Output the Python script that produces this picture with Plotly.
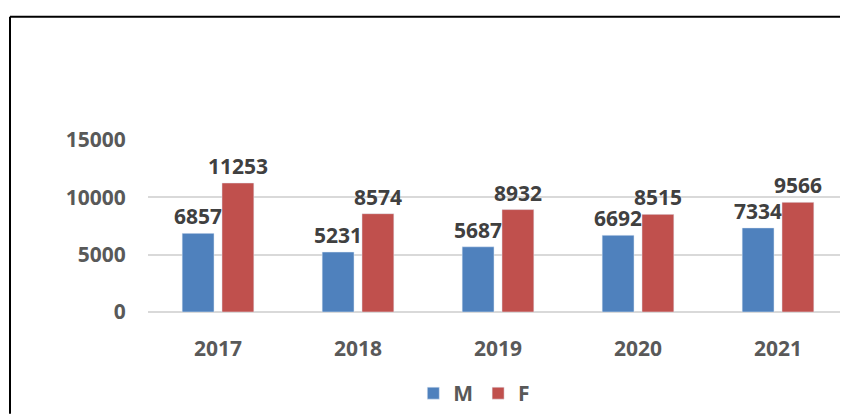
import plotly.graph_objects as go

years = ["2017", "2018", "2019", "2020", "2021"]
male = [6857, 5231, 5687, 6692, 7334]
female = [11253, 8574, 8932, 8515, 9566]
y_ticks = [0, 5000, 10000, 15000]

BLUE = "#4F81BD"
RED = "#C0504D"
FONT = "Open Sans"
LBL = dict(family=FONT, size=21, color="#404040", weight="bold")

fig = go.Figure()
fig.add_trace(go.Bar(name="M", x=years, y=male, marker_color=BLUE,
                     text=male, textposition="outside", textfont=LBL, cliponaxis=False))
fig.add_trace(go.Bar(name="F", x=years, y=female, marker_color=RED,
                     text=female, textposition="outside", textfont=LBL, cliponaxis=False))

fig.update_layout(
    width=840, height=406,
    margin=dict(l=140, r=0, t=132, b=98),
    paper_bgcolor="white", plot_bgcolor="white",
    barmode="group", bargap=0.431, bargroupgap=0.2,
    uniformtext=dict(minsize=21, mode="show"),
    showlegend=True,
    legend=dict(orientation="h", x=0.379, xanchor="left", y=-0.477, yanchor="middle",
                font=dict(family=FONT, size=21, color="#595959", weight="bold"),
                traceorder="normal"),
    xaxis=dict(type="category", showgrid=False, showline=False,
               ticks="outside", ticklen=18, tickcolor="rgba(0,0,0,0)",
               tickfont=dict(family=FONT, size=21, color="#595959", weight="bold")),
    yaxis=dict(range=[0, 15000], tickvals=y_ticks, tickformat="d", showgrid=True,
               gridcolor="#D9D9D9", gridwidth=1.5, zeroline=True, zerolinecolor="#D9D9D9",
               zerolinewidth=1.5, showline=False,
               ticks="outside", ticklen=17, tickcolor="rgba(0,0,0,0)",
               tickfont=dict(family=FONT, size=21, color="#595959", weight="bold")),
    shapes=[
        dict(type="line", xref="paper", yref="paper", x0=(10 - 148) / 700, x1=(10 - 148) / 700,
             y0=(316 - 420) / 176, y1=(316 - 14) / 176, line=dict(color="black", width=2)),
        dict(type="line", xref="paper", yref="paper", x0=(10 - 148) / 700, x1=1.02,
             y0=(316 - 14) / 176, y1=(316 - 14) / 176, line=dict(color="black", width=2)),
    ],
)

fig.write_html("out.html")
